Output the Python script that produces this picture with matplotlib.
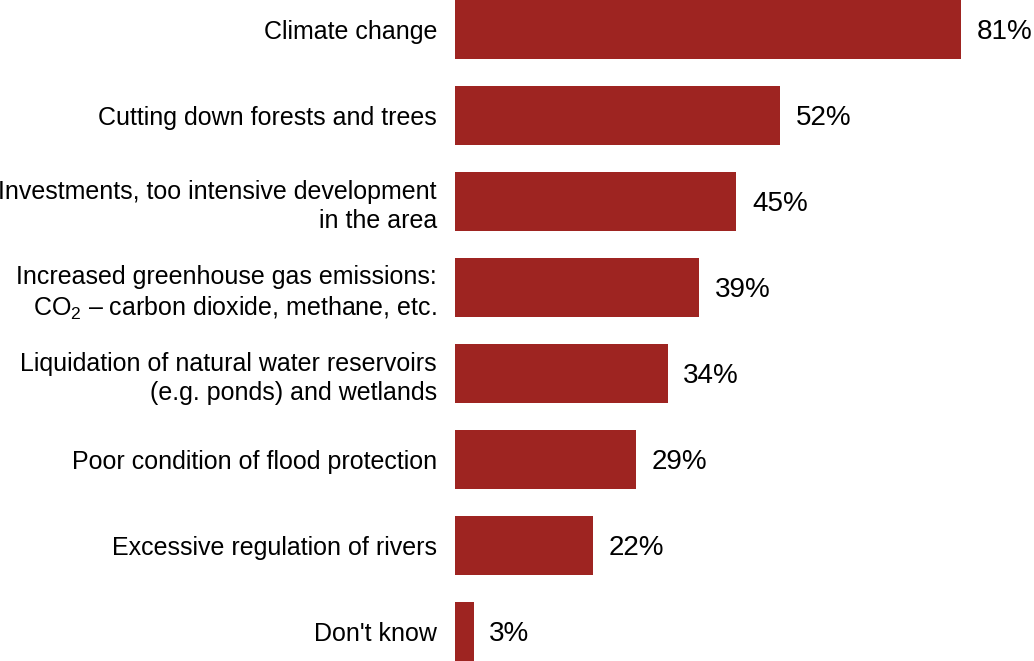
import matplotlib
matplotlib.use('Agg')
import matplotlib.pyplot as plt

categories = [
    'Climate change',
    'Cutting down forests and trees',
    'Investments, too intensive development\nin the area',
    'Increased greenhouse gas emissions:\nCO$_2$ – carbon dioxide, methane, etc.',
    'Liquidation of natural water reservoirs\n(e.g. ponds) and wetlands',
    'Poor condition of flood protection',
    'Excessive regulation of rivers',
    "Don't know",
]
values = [81, 52, 45, 39, 34, 29, 22, 3]

plt.rcParams['font.family'] = ['Liberation Sans', 'DejaVu Sans']
plt.rcParams['mathtext.fontset'] = 'custom'
plt.rcParams['mathtext.rm'] = 'Liberation Sans'
plt.rcParams['mathtext.it'] = 'Liberation Sans:italic'

fig = plt.figure(figsize=(10.34, 6.61), dpi=100)
ax = fig.add_axes([455 / 1034, 0, 1 - 455 / 1034, 1])

h = 0.686
pos = list(range(len(values)))
ax.barh(pos, values, height=h, color='#9E2421')
ax.set_ylim(len(values) - 1 + h / 2, -h / 2)
ax.set_xlim(0, 92.6)

for y, v in zip(pos, values):
    ax.text(v + 2.5, y + 0.03, f'{v}%', va='center', ha='left', fontsize=20)

ax.set_yticks(pos)
ax.set_yticklabels(categories, fontsize=18, linespacing=1.26)
ax.tick_params(axis='y', length=0, pad=13)
ax.set_xticks([])
for s in ax.spines.values():
    s.set_visible(False)

fig.savefig('out.png', dpi=100)
